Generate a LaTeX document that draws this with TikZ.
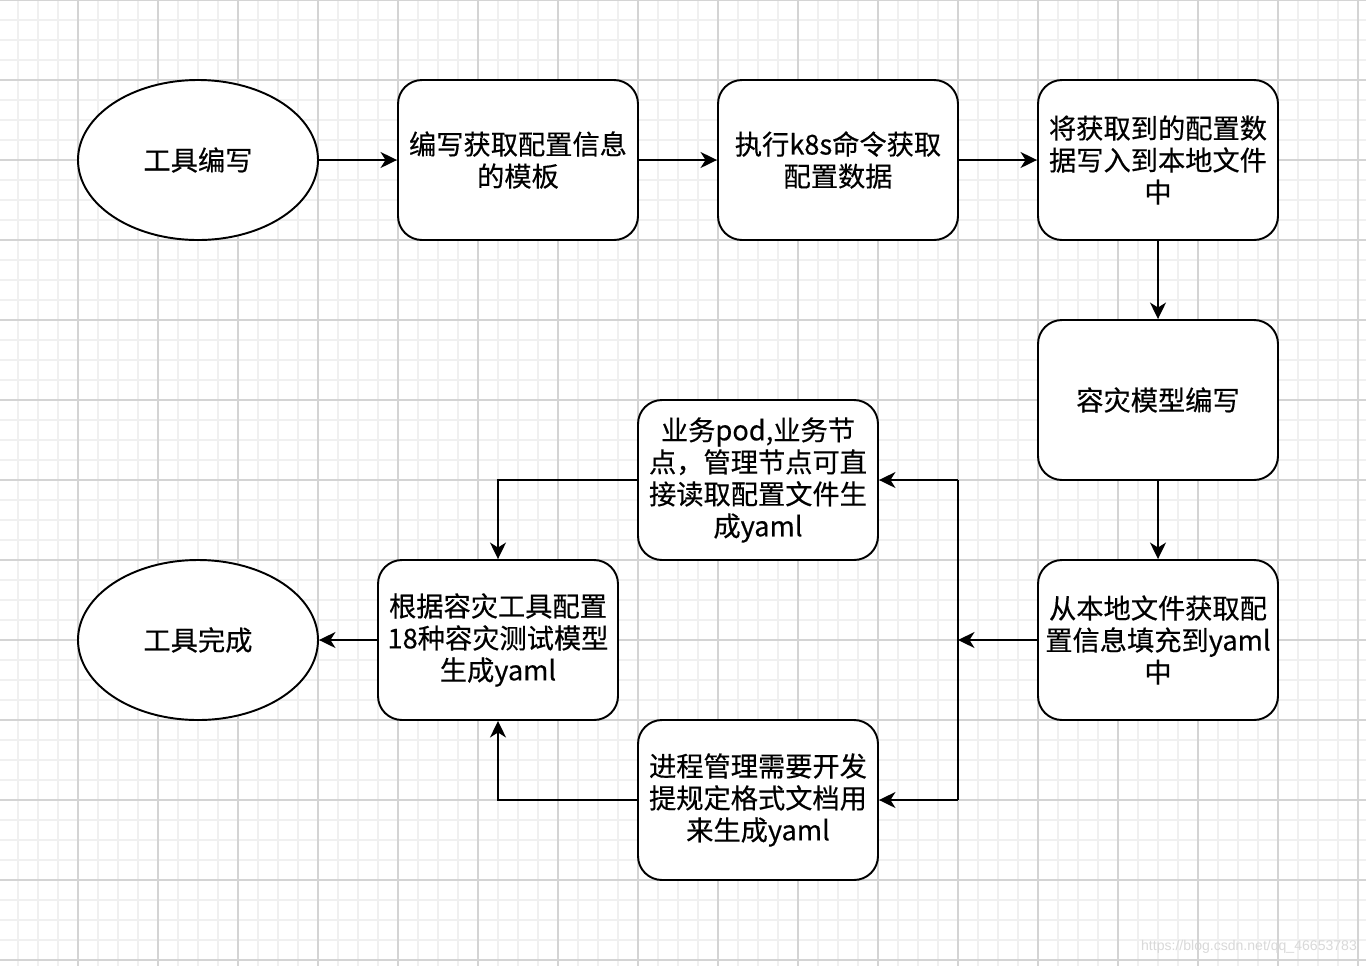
\documentclass[tikz,border=0pt]{standalone}
\usepackage{fontspec}
\setmainfont{Noto Sans CJK SC}[FakeBold=0.4]
\newfontfamily\markfont{Liberation Sans}
\usepackage{tikz}
\usetikzlibrary{arrows.meta,shapes.geometric}

\definecolor{gridminor}{HTML}{F0F0F0}
\definecolor{gridmajor}{HTML}{D4D4D4}

\tikzset{
  box/.style={draw, line width=1.1pt, rounded corners=0.48cm, fill=white,
    minimum width=4.8cm, minimum height=3.2cm, align=center,
    font=\fontsize{15.5}{18.2}\selectfont},
  term/.style={draw, ellipse, line width=1.1pt, fill=white,
    minimum width=4.8cm, minimum height=3.2cm, inner sep=0pt,
    font=\fontsize{15.5}{18.2}\selectfont},
  arr/.style={-{Stealth[length=0.33cm,width=0.32cm,inset=0.1cm]}, line width=1.1pt},
  wire/.style={line width=1.1pt}
}

\begin{document}
\begin{tikzpicture}[x=1.6cm,y=-1.6cm]
    % Page and grid background
    \useasboundingbox (0.025,0) rectangle (17.1,12.075);
    \fill[white] (0.025,0) rectangle (17.1,12.075);
    \foreach \i in {0,...,68} {
      \draw[gridminor, line width=0.6pt] (\i/4,0) -- (\i/4,12.075);
    }
    \foreach \j in {0,...,48} {
      \draw[gridminor, line width=0.6pt] (0.025,\j/4) -- (17.1,\j/4);
    }
    \foreach \i in {1,...,17} {
      \draw[gridmajor, line width=0.6pt] (\i,0) -- (\i,12.075);
    }
    \foreach \j in {0,...,12} {
      \draw[gridmajor, line width=0.6pt] (0.025,\j) -- (17.1,\j);
    }

    % Top row
    \node[term] (start) at (2.5,2) {工具编写};
    \node[box] (tpl) at (6.5,2) {编写获取配置信息\\的模板};
    \node[box] (exec) at (10.5,2) {执行k8s命令获取\\配置数据};
    \node[box] (save) at (14.5,2) {将获取到的配置数\\据写入到本地文件\\中};

    % Right column
    \node[box] (model) at (14.5,5) {容灾模型编写};
    \node[box] (fill) at (14.5,8) {从本地文件获取配\\置信息填充到yaml\\中};

    % Two ways to yaml
    \node[box] (direct) at (9.5,6) {业务pod,业务节\\点，管理节点可直\\接读取配置文件生\\成yaml};
    \node[box] (proc) at (9.5,10) {进程管理需要开发\\提规定格式文档用\\来生成yaml};

    % Bottom left
    \node[box] (gen) at (6.25,8) {根据容灾工具配置\\18种容灾测试模型\\生成yaml};
    \node[term] (done) at (2.5,8) {工具完成};

    % Split point
    \coordinate (bus) at (12,8);
    \coordinate (busT) at (12,6);
    \coordinate (busB) at (12,10);

    % Connectors
    \draw[arr] (start) -- (tpl);
    \draw[arr] (tpl) -- (exec);
    \draw[arr] (exec) -- (save);
    \draw[arr] (save) -- (model);
    \draw[arr] (model) -- (fill);
    \draw[arr] (fill) -- (bus);
    \draw[wire] (busT) -- (busB);
    \draw[arr] (busT) -- (direct);
    \draw[arr] (busB) -- (proc);
    \draw[arr] (direct.west) -| (gen.north);
    \draw[arr] (proc.west) -| (gen.south);
    \draw[arr] (gen) -- (done);

    % Watermark
    \node[anchor=east, text=gray!30, font=\markfont\fontsize{8}{9}\selectfont, inner sep=0pt]
      (mark) at (16.99,11.83) {https://blog.csdn.net/qq\_46653783};
\end{tikzpicture}
\end{document}
